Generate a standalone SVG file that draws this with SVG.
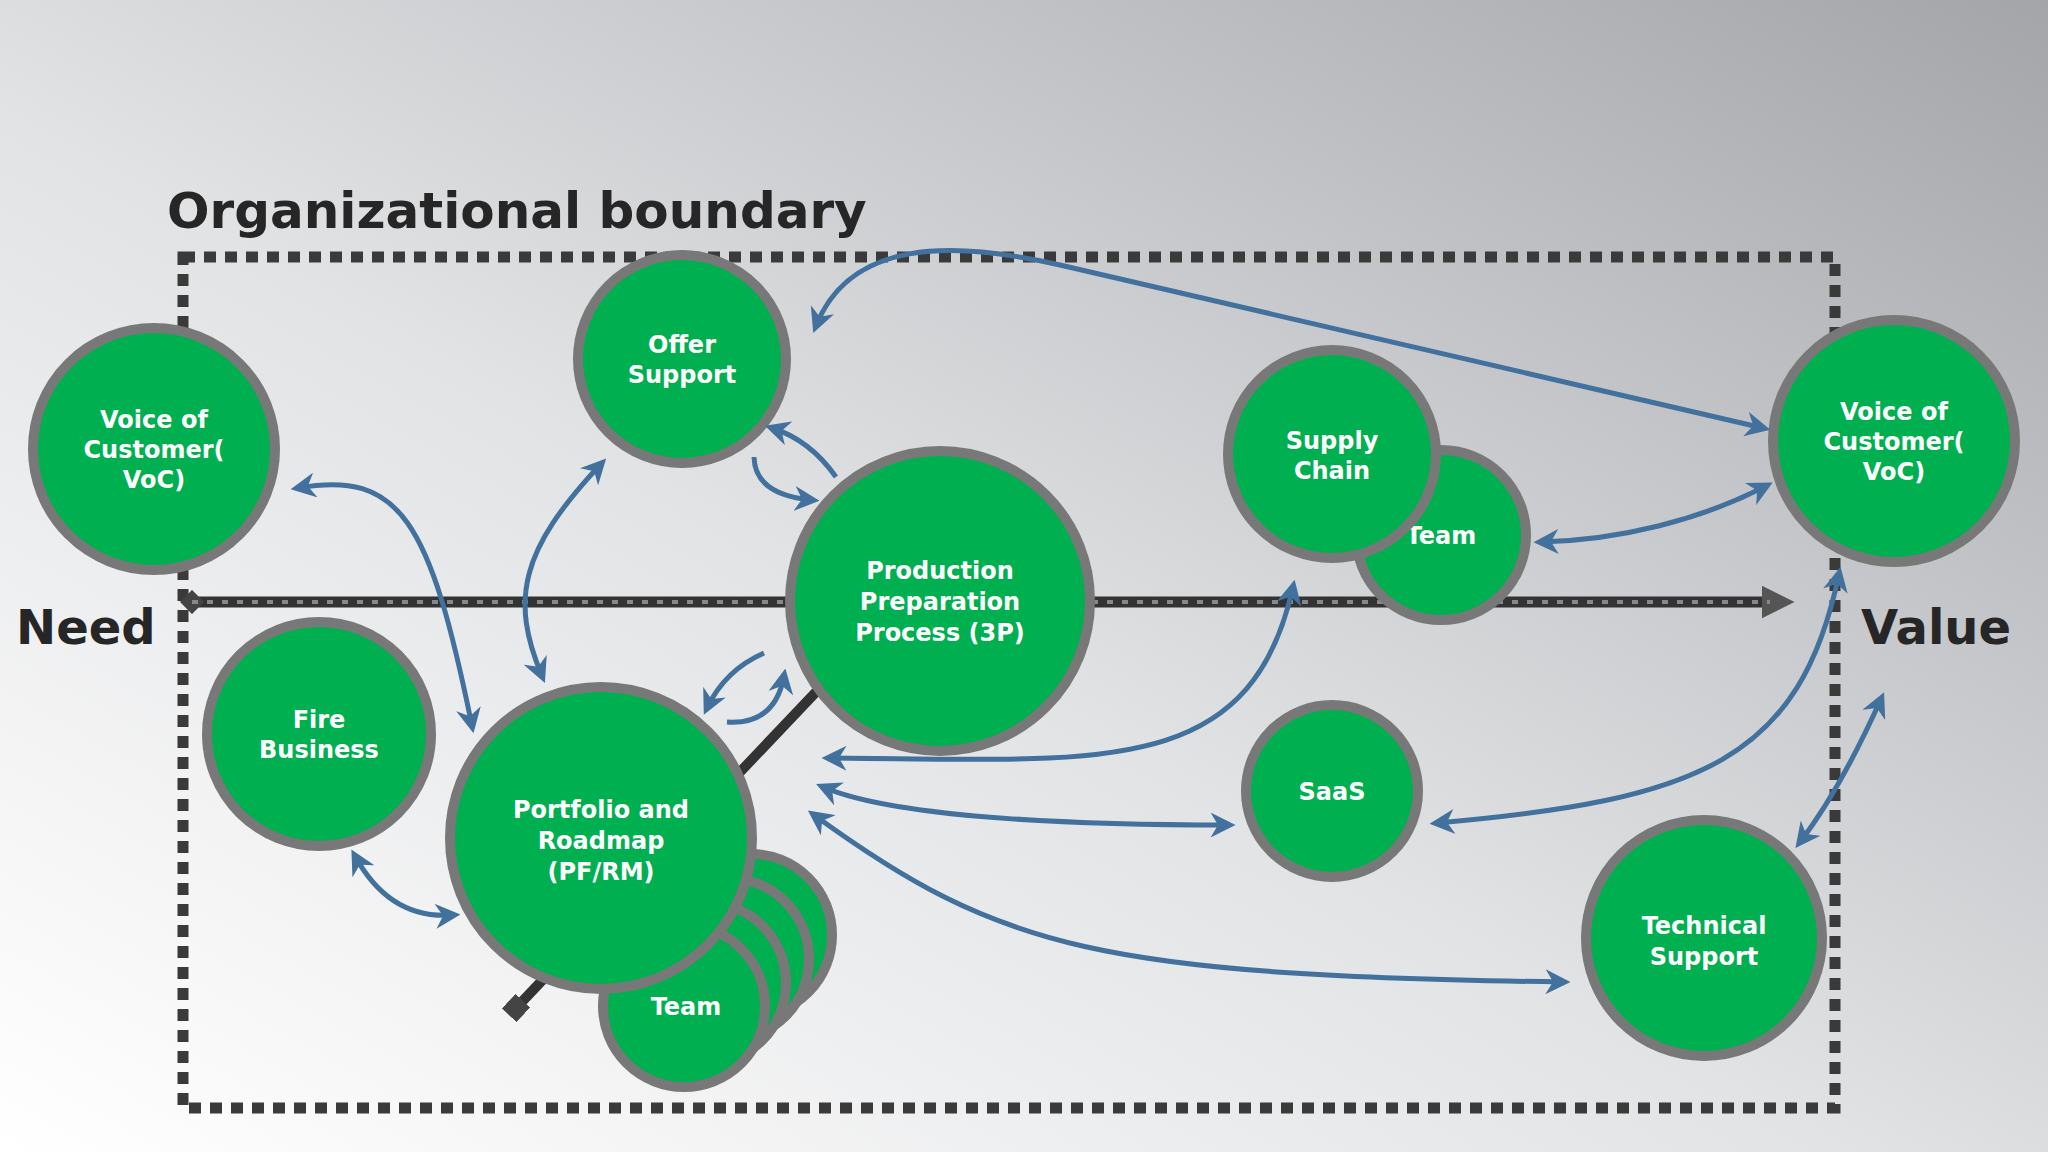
<svg xmlns="http://www.w3.org/2000/svg" width="2048" height="1152" viewBox="0 0 2048 1152">
<defs>
<linearGradient id="bg" x1="0" y1="1" x2="1" y2="0">
<stop offset="0" stop-color="#ffffff"/><stop offset="0.45" stop-color="#e2e3e5"/><stop offset="1" stop-color="#a3a5a9"/>
</linearGradient>
<marker id="ah" viewBox="0 0 10 10" refX="7" refY="5" markerWidth="5" markerHeight="5" orient="auto-start-reverse" markerUnits="strokeWidth">
<path d="M0,0 L10,5 L0,10 L3,5 Z" fill="#41719c"/></marker>
<marker id="big" viewBox="0 0 10 10" refX="5" refY="5" markerWidth="3" markerHeight="3" orient="auto" markerUnits="strokeWidth">
<path d="M0,0 L10,5 L0,10 Z" fill="#555"/></marker>
<marker id="sq" viewBox="0 0 10 10" refX="5" refY="5" markerWidth="2" markerHeight="2" orient="auto" markerUnits="strokeWidth">
<rect x="0" y="0" width="10" height="10" fill="#444"/></marker>
<marker id="dia" viewBox="0 0 10 10" refX="5" refY="5" markerWidth="2.2" markerHeight="2.2" orient="auto" markerUnits="strokeWidth">
<path d="M5,0 L10,5 L5,10 L0,5 Z" fill="#444"/></marker>
</defs>
<style>
.n{fill:#00b050;stroke:#787878;stroke-width:10}
.t{font-family:"DejaVu Sans","Liberation Sans",sans-serif;font-weight:bold;font-size:24px;fill:#fff;text-anchor:middle}
.c{fill:none;stroke:#41719c;stroke-width:5;marker-start:url(#ah);marker-end:url(#ah)}
.h{font-family:"DejaVu Sans","Liberation Sans",sans-serif;font-weight:bold;fill:#262626}
</style>
<rect width="2048" height="1152" fill="url(#bg)"/>
<text class="h" x="167" y="228" font-size="50">Organizational boundary</text>
<rect x="183" y="257" width="1652" height="851" fill="none" stroke="#3a3a3a" stroke-width="11" stroke-dasharray="12 9"/>
<text class="h" x="16" y="644" font-size="48">Need</text>
<text class="h" x="1861" y="644" font-size="48">Value</text>
<g id="backbone">
<line x1="192" y1="602" x2="1778" y2="602" stroke="#333" stroke-width="11" marker-end="url(#big)" marker-start="url(#dia)"/>
<line x1="192" y1="602" x2="1770" y2="602" stroke="#888" stroke-width="4" stroke-dasharray="6 9"/>
<line x1="816" y1="692" x2="516" y2="1008" stroke="#333" stroke-width="10" marker-end="url(#sq)"/>
</g>
<g id="voc-left"><circle class="n" cx="154" cy="449" r="121"/><text class="t" x="154" y="428">Voice of</text><text class="t" x="154" y="458">Customer(</text><text class="t" x="154" y="488">VoC)</text></g>
<g id="offer"><circle class="n" cx="682" cy="359" r="104"/><text class="t" x="682" y="353">Offer</text><text class="t" x="682" y="383">Support</text></g>
<g id="team-sc"><circle class="n" cx="1441" cy="535" r="85"/><text class="t" x="1441" y="544">Team</text></g>
<g id="supply"><circle class="n" cx="1332" cy="454" r="104"/><text class="t" x="1332" y="449">Supply</text><text class="t" x="1332" y="479">Chain</text></g>
<g id="production"><circle class="n" cx="940" cy="601" r="150"/><text class="t" x="940" y="579">Production</text><text class="t" x="940" y="610">Preparation</text><text class="t" x="940" y="641">Process (3P)</text></g>
<g id="voc-right"><circle class="n" cx="1894" cy="441" r="121"/><text class="t" x="1894" y="420">Voice of</text><text class="t" x="1894" y="450">Customer(</text><text class="t" x="1894" y="480">VoC)</text></g>
<g id="fire"><circle class="n" cx="319" cy="734" r="112"/><text class="t" x="319" y="728">Fire</text><text class="t" x="319" y="758">Business</text></g>
<g id="team-stack"><circle class="n" cx="751" cy="935" r="81"/><circle class="n" cx="728" cy="959" r="81"/><circle class="n" cx="705" cy="983" r="81"/><circle class="n" cx="684" cy="1006" r="81"/><text class="t" x="686" y="1015">Team</text></g>
<g id="portfolio"><circle class="n" cx="601" cy="838" r="151"/><text class="t" x="601" y="818">Portfolio and</text><text class="t" x="601" y="849">Roadmap</text><text class="t" x="601" y="880">(PF/RM)</text></g>
<g id="saas"><circle class="n" cx="1332" cy="791" r="86"/><text class="t" x="1332" y="800">SaaS</text></g>
<g id="tech"><circle class="n" cx="1704" cy="938" r="118"/><text class="t" x="1704" y="934">Technical</text><text class="t" x="1704" y="965">Support</text></g>
<g id="connectors">
<path class="c" d="M816,326 C850,240 950,240 1060,265 L1763,428"/>
<path class="c" d="M298,488 C400,470 430,520 472,726"/>
<path class="c" d="M601,464 C520,550 510,600 542,676"/>
<path class="c" style="marker-start:none" d="M836,477 Q810,440 772,428"/>
<path class="c" style="marker-start:none" d="M754,457 Q755,495 812,500"/>
<path class="c" style="marker-start:none" d="M764,653 Q725,670 707,708"/>
<path class="c" style="marker-start:none" d="M727,722 Q775,725 784,676"/>
<path class="c" d="M1293,587 C1250,780 1100,760 829,758"/>
<path class="c" d="M823,787 C900,820 1100,825 1228,825"/>
<path class="c" d="M1563,982 C1100,975 1000,950 814,815"/>
<path class="c" d="M1437,823 C1700,800 1800,760 1839,574"/>
<path class="c" d="M1541,542 C1620,540 1700,520 1766,486"/>
<path class="c" d="M1800,842 Q1840,790 1881,699"/>
<path class="c" d="M355,856 Q390,920 453,915"/>
</g>
</svg>
